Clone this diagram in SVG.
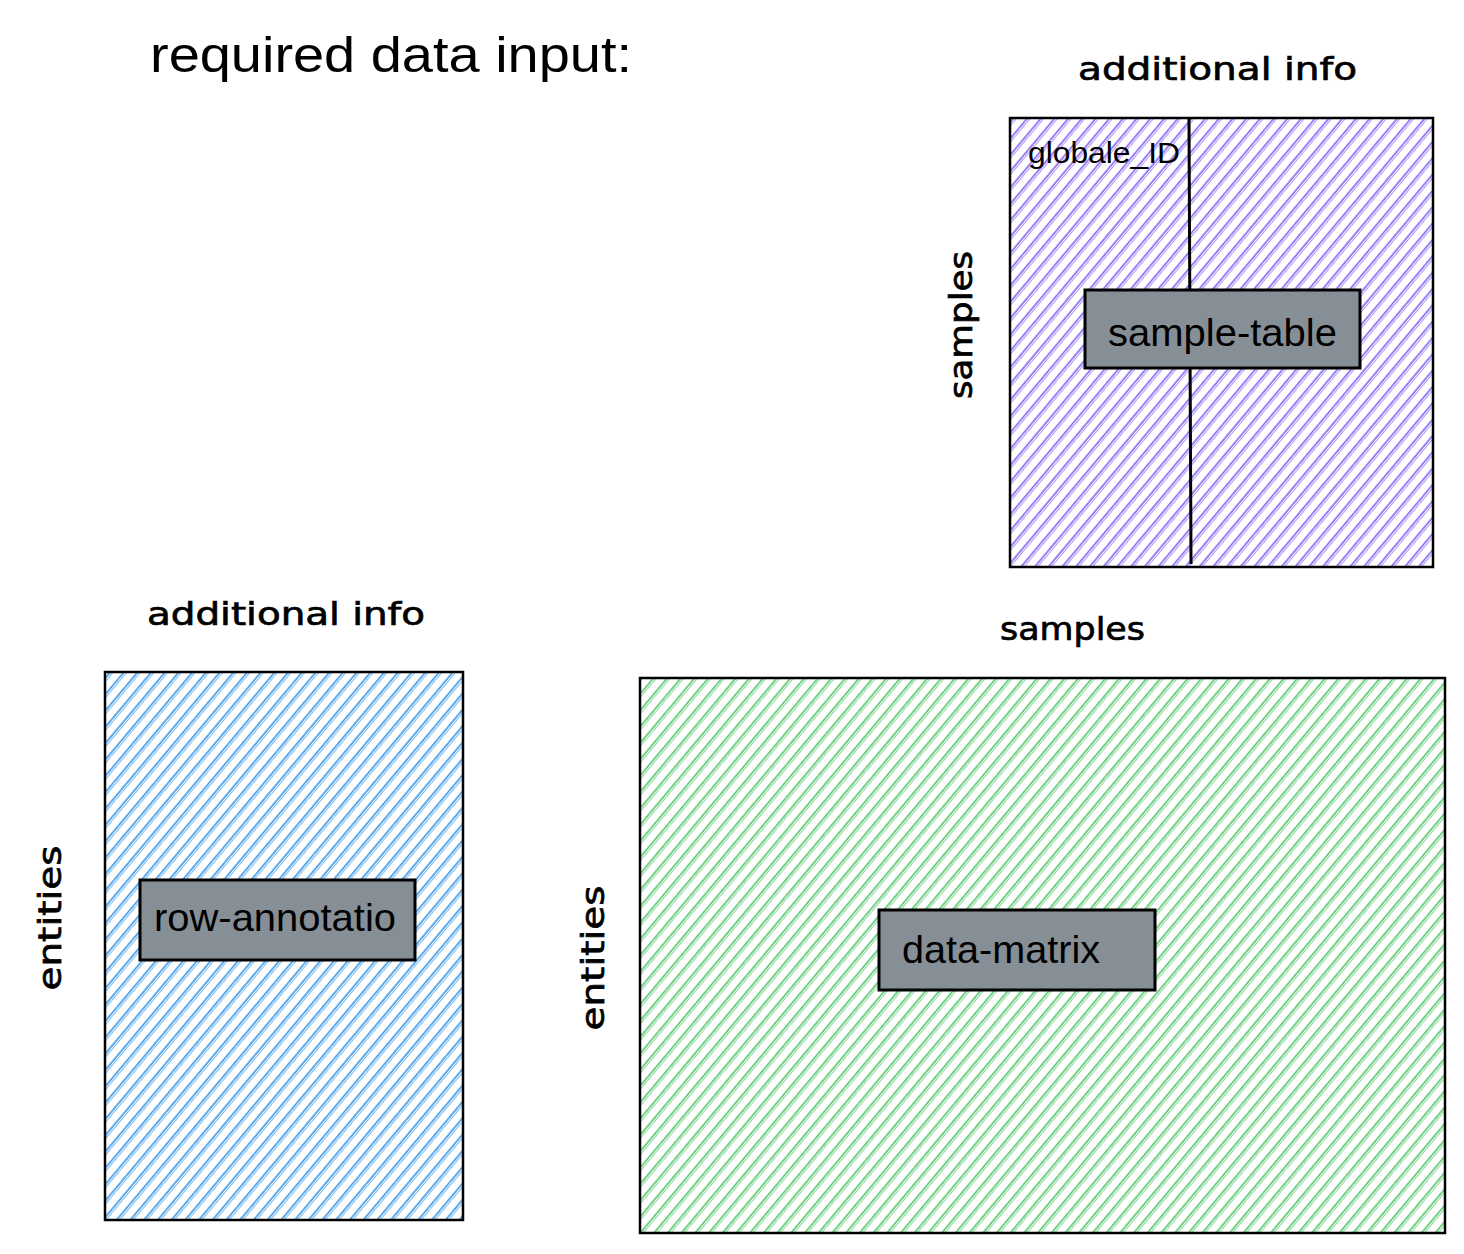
<svg xmlns="http://www.w3.org/2000/svg" width="1464" height="1254" viewBox="0 0 1464 1254">
<style>
.frame{fill:none;stroke:#000;stroke-width:2.5}
.label{fill:#868e96;stroke:#000;stroke-width:3}
.sans{font-family:"Liberation Sans",Arial,sans-serif;fill:#000}
.hand{font-family:"DejaVu Sans","Noto Sans",sans-serif;fill:#000;stroke:#000;stroke-width:0.7}
</style>
<defs>
<pattern id="hv" patternUnits="userSpaceOnUse" width="10.5" height="10.5" patternTransform="rotate(40)">
<line x1="2" y1="0" x2="2" y2="10.5" stroke="#7950f2" stroke-width="1.4"/>
<line x1="4.2" y1="0" x2="4.2" y2="10.5" stroke="#7950f2" stroke-width="0.8" opacity="0.8"/>
</pattern>
<pattern id="hb" patternUnits="userSpaceOnUse" width="10.5" height="10.5" patternTransform="rotate(40)">
<line x1="2" y1="0" x2="2" y2="10.5" stroke="#228be6" stroke-width="1.4"/>
<line x1="4.2" y1="0" x2="4.2" y2="10.5" stroke="#228be6" stroke-width="0.8" opacity="0.8"/>
</pattern>
<pattern id="hg" patternUnits="userSpaceOnUse" width="10.5" height="10.5" patternTransform="rotate(40)">
<line x1="2" y1="0" x2="2" y2="10.5" stroke="#40c057" stroke-width="1.4"/>
<line x1="4.2" y1="0" x2="4.2" y2="10.5" stroke="#40c057" stroke-width="0.8" opacity="0.8"/>
</pattern>
</defs>
<rect width="1464" height="1254" fill="#fff"/>

<g id="title">
<text class="sans" x="150" y="72" font-size="50" textLength="482" lengthAdjust="spacingAndGlyphs">required data input:</text>
</g>

<g id="sample-table">
<text class="hand" x="1078" y="80" font-size="32" textLength="279" lengthAdjust="spacingAndGlyphs">additional info</text>
<text class="hand" font-size="32" transform="translate(972,325) rotate(-90)" text-anchor="middle" textLength="148" lengthAdjust="spacingAndGlyphs">samples</text>
<rect x="1010" y="118" width="423" height="449" fill="url(#hv)"/>
<rect class="frame" x="1010" y="118" width="423" height="449"/>
<line x1="1189" y1="118" x2="1191" y2="564" stroke="#000" stroke-width="3"/>
<text class="sans" x="1028" y="163" font-size="30" textLength="152" lengthAdjust="spacingAndGlyphs">globale_ID</text>
<rect class="label" x="1085" y="290" width="275" height="78"/>
<text class="sans" x="1108" y="346" font-size="39" textLength="229" lengthAdjust="spacingAndGlyphs">sample-table</text>
</g>

<g id="row-annotation">
<text class="hand" x="147" y="625" font-size="32" textLength="278" lengthAdjust="spacingAndGlyphs">additional info</text>
<text class="hand" font-size="32" transform="translate(61,918) rotate(-90)" text-anchor="middle" textLength="145" lengthAdjust="spacingAndGlyphs">entities</text>
<rect x="105" y="672" width="358" height="548" fill="url(#hb)"/>
<rect class="frame" x="105" y="672" width="358" height="548"/>
<rect class="label" x="140" y="880" width="275" height="80"/>
<text class="sans" x="154" y="931" font-size="39" textLength="242" lengthAdjust="spacingAndGlyphs">row-annotatio</text>
</g>

<g id="data-matrix">
<text class="hand" x="1000" y="640" font-size="32" textLength="145" lengthAdjust="spacingAndGlyphs">samples</text>
<text class="hand" font-size="32" transform="translate(604,958) rotate(-90)" text-anchor="middle" textLength="145" lengthAdjust="spacingAndGlyphs">entities</text>
<rect x="640" y="678" width="805" height="555" fill="url(#hg)"/>
<rect class="frame" x="640" y="678" width="805" height="555"/>
<rect class="label" x="879" y="910" width="276" height="80"/>
<text class="sans" x="902" y="963" font-size="39" textLength="198" lengthAdjust="spacingAndGlyphs">data-matrix</text>
</g>
</svg>
